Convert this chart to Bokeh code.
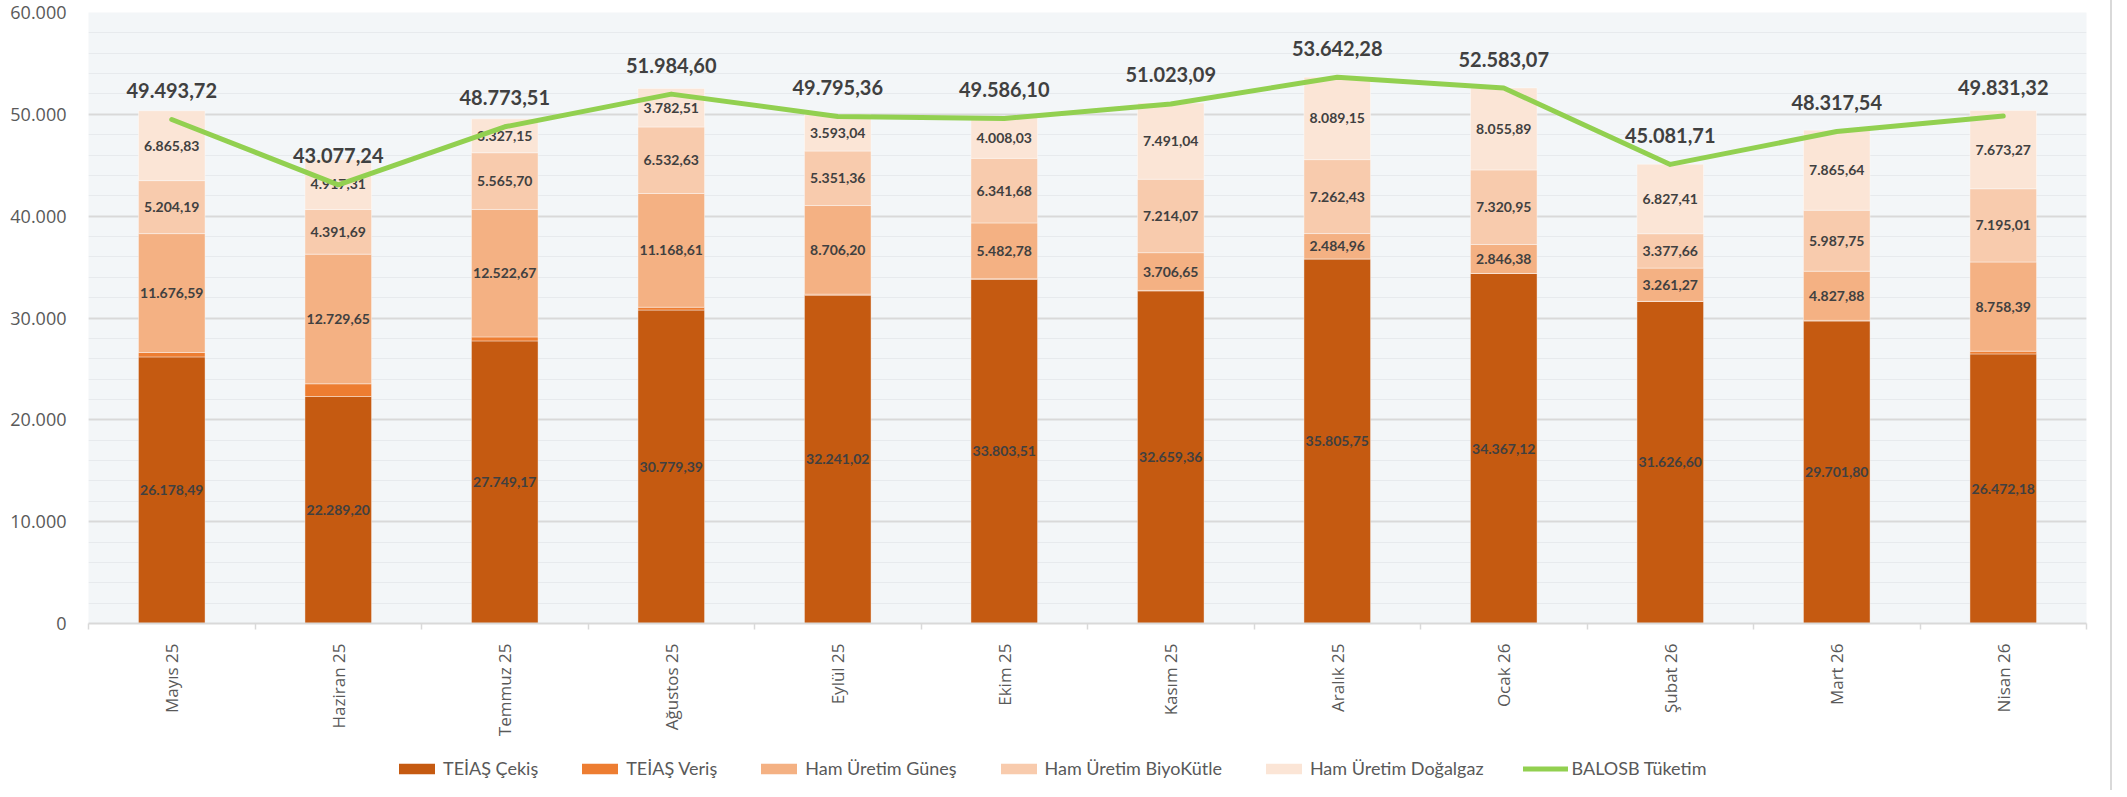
import numpy as np
from bokeh.plotting import figure
from bokeh.layouts import column
from bokeh.models import (ColumnDataSource, Legend, LegendItem, FixedTicker,
                          SingleIntervalTicker, CustomJSTickFormatter, Range1d)
from bokeh.core.properties import value
from bokeh.embed import file_html
from bokeh.resources import INLINE

months = ["Mayıs 25", "Haziran 25", "Temmuz 25", "Ağustos 25", "Eylül 25", "Ekim 25",
          "Kasım 25", "Aralık 25", "Ocak 26", "Şubat 26", "Mart 26", "Nisan 26"]
teias_cekis = [26178.49, 22289.20, 27749.17, 30779.39, 32241.02, 33803.51,
               32659.36, 35805.75, 34367.12, 31626.60, 29701.80, 26472.18]
teias_veris = [431.38, 1250.61, 391.18, 278.54, 96.26, 49.90,
               48.03, 0.01, 7.27, 11.23, 65.53, 267.53]
ham_gunes = [11676.59, 12729.65, 12522.67, 11168.61, 8706.20, 5482.78,
             3706.65, 2484.96, 2846.38, 3261.27, 4827.88, 8758.39]
ham_biyokutle = [5204.19, 4391.69, 5565.70, 6532.63, 5351.36, 6341.68,
                 7214.07, 7262.43, 7320.95, 3377.66, 5987.75, 7195.01]
ham_dogalgaz = [6865.83, 4917.31, 3327.15, 3782.51, 3593.04, 4008.03,
                7491.04, 8089.15, 8055.89, 6827.41, 7865.64, 7673.27]
balosb_tuketim = [49493.72, 43077.24, 48773.51, 51984.60, 49795.36, 49586.10,
                  51023.09, 53642.28, 52583.07, 45081.71, 48317.54, 49831.32]

series_names = ["TEİAŞ Çekiş", "TEİAŞ Veriş", "Ham Üretim Güneş",
                "Ham Üretim BiyoKütle", "Ham Üretim Doğalgaz"]
series_keys = ["cekis", "veris", "gunes", "biyo", "dogal"]
colors = ["#C55A11", "#ED7D31", "#F4B183", "#F8CBAD", "#FBE5D6"]
line_color = "#92D050"
line_name = "BALOSB Tüketim"


def tr(v):
    s = f"{v:,.2f}"
    return s.replace(",", "X").replace(".", ",").replace("X", ".")


x = list(range(1, len(months) + 1))
data = dict(x=x, cekis=teias_cekis, veris=teias_veris, gunes=ham_gunes,
            biyo=ham_biyokutle, dogal=ham_dogalgaz, tuketim=balosb_tuketim)
src = ColumnDataSource(data)

p = figure(width=2110, height=740, output_backend="svg", toolbar_location=None,
           x_range=Range1d(0.5, len(months) + 0.5), y_range=Range1d(0, 60000),
           min_border_left=88, min_border_right=24, min_border_top=12,
           min_border_bottom=117)
p.background_fill_color = "#F3F6F8"
p.border_fill_color = "white"
p.outline_line_color = None

bars = p.vbar_stack(series_keys, x="x", width=0.4, color=colors, source=src,
                    line_color="white", line_width=0.8, line_alpha=0.5)

# segment labels
arrs = [np.array(v) for v in (teias_cekis, teias_veris, ham_gunes, ham_biyokutle, ham_dogalgaz)]
bottom = np.zeros(len(months))
lx, ly, lt = [], [], []
for i, arr in enumerate(arrs):
    if series_keys[i] != "veris":
        for j in range(len(months)):
            lx.append(x[j])
            ly.append(bottom[j] + arr[j] / 2)
            lt.append(tr(arr[j]))
    bottom = bottom + arr
lsrc = ColumnDataSource(dict(x=lx, y=ly, t=lt))
p.text(x="x", y="y", text="t", source=lsrc, text_align="center",
       text_baseline="middle", text_font=value("Lato"), text_font_style="bold",
       text_font_size="14px", text_color="#404040")

line = p.line(x="x", y="tuketim", source=src, line_color=line_color, line_width=5,
              line_join="round", line_cap="round")
tsrc = ColumnDataSource(dict(x=x, y=balosb_tuketim, t=[tr(v) for v in balosb_tuketim]))
p.text(x="x", y="y", text="t", source=tsrc, text_align="center",
       text_baseline="middle", y_offset=-29, text_font=value("Lato"),
       text_font_style="bold", text_font_size="20px", text_color="#404040")

# axes
p.yaxis.ticker = SingleIntervalTicker(interval=10000, num_minor_ticks=5)
p.yaxis.formatter = CustomJSTickFormatter(
    code="return Math.round(tick).toString().replace(/\\B(?=(\\d{3})+(?!\\d))/g, '.');")
p.yaxis.axis_line_color = None
p.yaxis.major_tick_line_color = None
p.yaxis.minor_tick_line_color = None
p.yaxis.major_tick_out = 0
p.yaxis.major_label_standoff = 18
p.yaxis.major_label_text_font = "Open Sans"
p.yaxis.major_label_text_font_size = "18px"
p.yaxis.major_label_text_color = "#595959"

p.ygrid.grid_line_color = "#D9D9D9"
p.ygrid.grid_line_width = 2
p.ygrid.minor_grid_line_color = "#E7EAED"
p.ygrid.minor_grid_line_width = 1
p.xgrid.grid_line_color = None

p.xaxis.ticker = FixedTicker(ticks=x, minor_ticks=[v - 0.5 for v in x] + [x[-1] + 0.5])
p.xaxis.major_label_overrides = {v: m for v, m in zip(x, months)}
p.xaxis.major_label_orientation = np.pi / 2
p.xaxis.axis_line_color = "#D9D9D9"
p.xaxis.axis_line_width = 2
p.xaxis.major_tick_line_color = None
p.xaxis.major_tick_out = 0
p.xaxis.major_tick_in = 0
p.xaxis.minor_tick_line_color = "#D9D9D9"
p.xaxis.minor_tick_line_width = 1.5
p.xaxis.minor_tick_in = 0
p.xaxis.minor_tick_out = 6
p.xaxis.major_label_standoff = 14
p.xaxis.major_label_text_font = "Open Sans"
p.xaxis.major_label_text_font_size = "17px"
p.xaxis.major_label_text_color = "#595959"

# legend strip: a separate figure whose swatch renderers hold a single NaN row
lp = figure(width=2110, height=50, output_backend="svg", toolbar_location=None,
            x_range=Range1d(0, 1), y_range=Range1d(0, 1),
            min_border_left=0, min_border_right=0, min_border_top=0,
            min_border_bottom=0)
lp.axis.visible = False
lp.grid.grid_line_color = None
lp.outline_line_color = None
lp.background_fill_color = "white"
nan = float("nan")
items = []
for n, c in zip(series_names, colors):
    r = lp.vbar(x=[nan], top=[nan], width=0.1, fill_color=c, line_color=None)
    items.append(LegendItem(label=n, renderers=[r]))
rl = lp.line(x=[nan, nan], y=[nan, nan], line_color=line_color, line_width=5,
             line_cap="round")
items.append(LegendItem(label=line_name, renderers=[rl]))
legend = Legend(items=items, orientation="horizontal", location=(306, 11),
                glyph_width=45, glyph_height=13, label_standoff=4, spacing=39,
                padding=0, margin=0, border_line_color=None,
                background_fill_alpha=0, label_text_font="Lato",
                label_text_font_size="18px", label_text_color="#595959",
                label_height=20)
lp.add_layout(legend, "center")

layout = column(p, lp, spacing=0)
layout.styles = {"border-right": "2px solid #D9D9D9"}

open("out.html", "w").write(file_html(layout, INLINE))
